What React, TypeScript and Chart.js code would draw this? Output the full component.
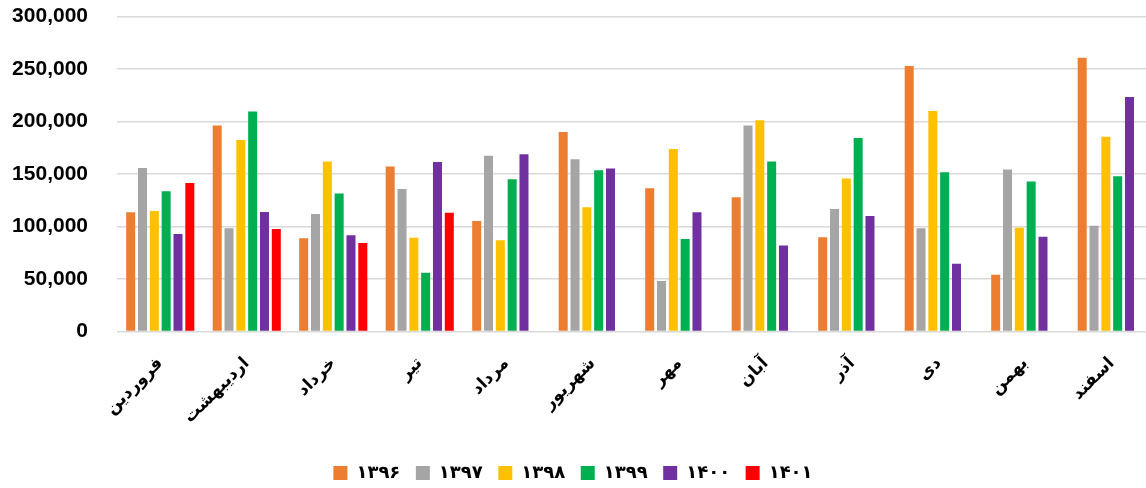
import React, { useEffect, useRef } from "react";
import { Chart, registerables } from "chart.js";

Chart.register(...registerables);

const months = ["فروردین", "اردیبهشت", "خرداد", "تیر", "مرداد", "شهریور", "مهر", "آبان", "آذر", "دی", "بهمن", "اسفند"];
const seriesNames = ["۱۳۹۶", "۱۳۹۷", "۱۳۹۸", "۱۳۹۹", "۱۴۰۰", "۱۴۰۱"];
const seriesColors = ["#ED7D31", "#A5A5A5", "#FFC000", "#00B050", "#7030A0", "#FF0000"];

const s1396 = [113500, 196300, 88700, 157100, 105200, 189900, 136500, 127900, 89700, 252900, 54100, 260800];
const s1397 = [155800, 98300, 111900, 135800, 167300, 164100, 48000, 196300, 116700, 98300, 154300, 100800];
const s1398 = [114800, 182300, 161900, 89400, 86800, 118300, 173700, 201300, 145700, 209900, 98900, 185400];
const s1399 = [133600, 209600, 131400, 56000, 145000, 153600, 88100, 161900, 184200, 151700, 142800, 147900];
const s1400 = [92900, 113800, 91600, 161500, 168900, 155200, 113500, 81800, 110000, 64600, 90300, 223300];
const s1401 = [141500, 97600, 84300, 113200, null, null, null, null, null, null, null, null];

const yTicks = [0, 50000, 100000, 150000, 200000, 250000, 300000];

export default function App() {
  const ref = useRef<HTMLCanvasElement>(null);
  useEffect(() => {
    const all = [s1396, s1397, s1398, s1399, s1400, s1401];
    const chart = new Chart(ref.current!, {
      type: "bar",
      data: {
        labels: months,
        datasets: all.map((d, i) => ({
          label: seriesNames[i],
          data: d,
          backgroundColor: seriesColors[i],
          borderWidth: 0,
          categoryPercentage: 0.82,
          barPercentage: 0.763,
        })),
      },
      options: {
        animation: false,
        responsive: false,
        layout: { padding: { top: 16.5, bottom: -4, left: 0, right: 0 } },
        plugins: {
          tooltip: { enabled: false },
          legend: {
            position: "bottom",
            labels: {
              boxWidth: 14,
              boxHeight: 14,
              padding: 15.5,
              color: "#000",
              font: { family: "DejaVu Sans", size: 18, weight: "bold" },
            },
          },
        },
        scales: {
          x: {
            grid: { display: false, drawTicks: false },
            border: { display: false },
            ticks: {
              autoSkip: false,
              maxRotation: 45,
              minRotation: 45,
              padding: 22,
              color: "#000",
              font: { family: "DejaVu Sans", size: 17, weight: "bold" },
            },
            afterFit: (s: any) => {
              s.height = 117;
            },
          },
          y: {
            min: 0,
            max: 300000,
            afterBuildTicks: (s: any) => {
              s.ticks = yTicks.map((v) => ({ value: v }));
            },
            grid: { color: "#D9D9D9", lineWidth: 1.5, drawTicks: false },
            border: { display: false },
            ticks: {
              padding: 29,
              color: "#000",
              font: { family: "Liberation Sans", size: 21, weight: "bold" },
              callback: (v: any) => Number(v).toLocaleString("en-US"),
            },
            afterFit: (s: any) => {
              s.width = 126;
              s.paddingTop = 0;
              s.paddingBottom = 0;
            },
          },
        },
      },
    });
    return () => chart.destroy();
  }, []);
  return (
    <div style={{ position: "fixed", left: -9, top: 0, width: 1164, height: 488, background: "#fff" }}>
      <canvas ref={ref} width={1164} height={488} style={{ width: 1164, height: 488 }} />
    </div>
  );
}
